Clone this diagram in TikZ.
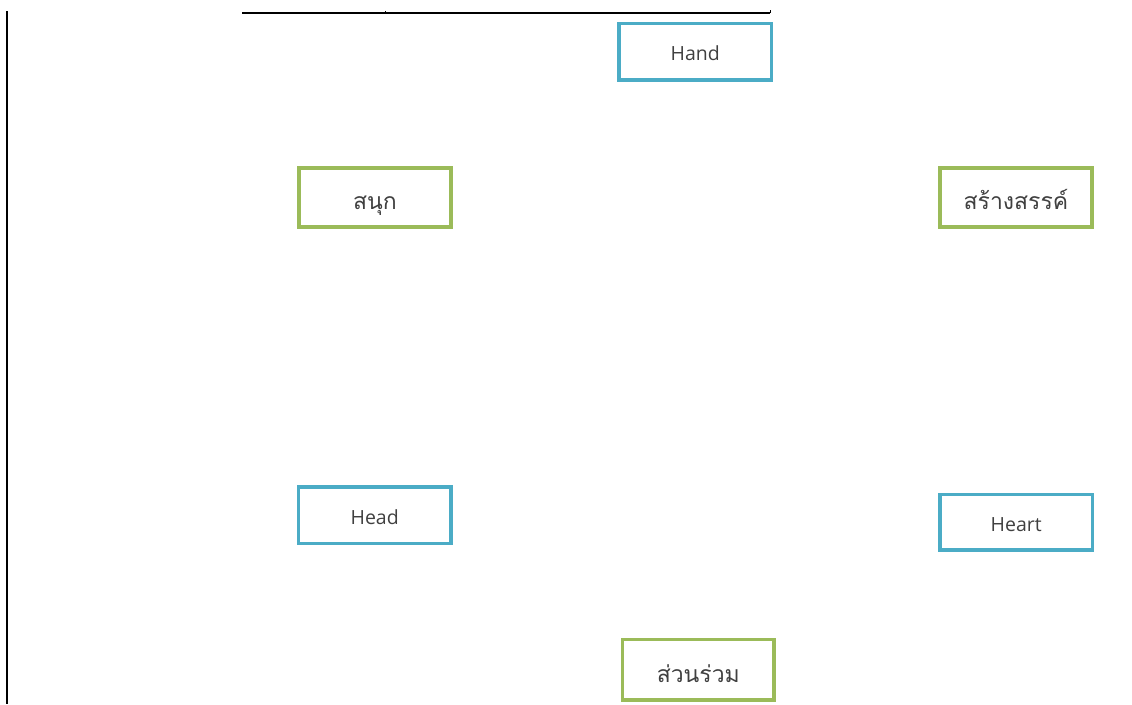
\documentclass[tikz,border=0pt]{standalone}
\usepackage{fontspec}
\setmainfont{Open Sans}
\newfontfamily\thaifont[Script=Thai]{Loma}
\definecolor{boxblue}{HTML}{4BACC6}
\definecolor{boxgreen}{HTML}{9BBB59}
\definecolor{txt}{HTML}{404040}
\begin{document}
\begin{tikzpicture}[x=1pt,y=-1pt,
  card/.style={draw, line width=3.6pt, inner sep=0pt, text=txt, align=center},
  bluecard/.style={card, draw=boxblue, minimum width=152.4pt, minimum height=56.4pt, text height=18pt, text depth=0pt, font=\fontsize{19.5}{21}\selectfont},
  greencard/.style={card, draw=boxgreen, minimum width=152.4pt, minimum height=59.4pt, text height=25pt, text depth=2pt, font=\thaifont\fontsize{23}{25}\selectfont},
  rule/.style={draw=black, line width=1.2pt}]
\useasboundingbox (0,0) rectangle (1132,704);
% frame lines
\coordinate (vtop) at (6.8,11);
\coordinate (vbot) at (6.8,704);
\draw[line width=1.8pt] (vtop) -- (vbot);
\coordinate (hl) at (242,13);
\coordinate (hr) at (770,13);
\coordinate (tk) at (385,13);
\coordinate (tkup) at (385,11);
\coordinate (hrup) at (770,10);
\draw[rule] (hl) -- (hr);
\draw[line width=1pt] (tk) -- (tkup);
\draw[line width=1pt] (hr) -- (hrup);
% cards
\node[bluecard] (hand) at (695.3,51.7) {Hand};
\node[greencard] (fun) at (375,197.5) {สนุก};
\node[greencard] (create) at (1016,197.5) {สร้างสรรค์};
\node[bluecard] (head) at (374.7,515.3) {Head};
\node[bluecard, minimum height=55.4pt] (heart) at (1016.2,522.2) {Heart};
\node[greencard, minimum width=151.4pt, minimum height=60.4pt, text height=27pt] (join) at (698.3,669.7) {ส่วนร่วม};
\end{tikzpicture}
\end{document}
